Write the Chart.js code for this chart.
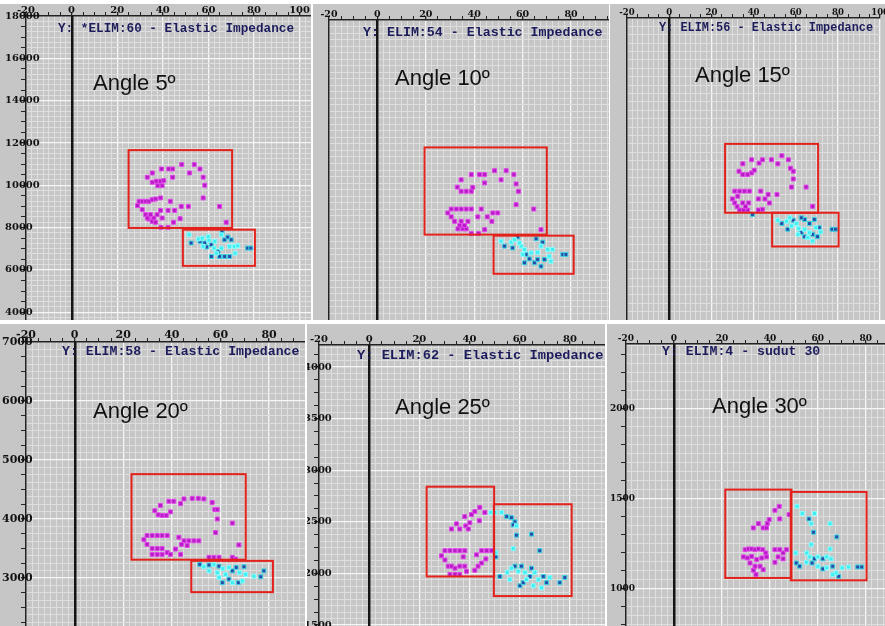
<!DOCTYPE html>
<html>
<head>
<meta charset="utf-8">
<script src="https://cdn.jsdelivr.net/npm/chart.js@4.4.0/dist/chart.umd.min.js"></script>
<style>
  html, body { margin: 0; padding: 0; background: #fff; }
  body { width: 885px; height: 626px; position: relative; overflow: hidden; }
  canvas { position: absolute; background: #c6c6c6; }
</style>
</head>
<body>
<script>
// ---- values (x = horizontal property, y = elastic impedance) ----
const p1Magenta = [[33.2,10380],[35.4,10580],[39.4,10770],[42.6,10770],[44.3,10770],[48.3,10980],[53.8,10980],[51.7,10580],[56.3,10770],[57.7,10380],[58.4,10000],[57.7,9400],[64.9,9000],[67.8,8250],
  [35.4,10140],[37.1,10190],[39.0,10190],[40.4,10220],[37.8,9980],[39.7,9980],[44.3,10380],
  [43.3,9240],[48.1,9000],[51.2,9000],[42.3,8810],[45.2,8810],[47.6,8420],[44.7,8250],[42.3,8010],[39.2,8010],
  [28.9,9040],[29.6,9240],[31.0,9240],[32.5,9240],[33.9,9240],[35.4,9320],[36.8,9350],[39.0,9400],[31.0,8850],[32.5,8610],[33.9,8400],[35.4,8290],[36.8,8250],[34.6,8610],[37.5,8610],[39.0,8810],[39.7,8450],[33.2,8450],[36.1,8450]];
const p1Cyan = [[51.5,7660],[55.6,7460],[57.3,7500],[60.2,7390],[62.5,7030],[63.5,6790],[65.7,7660],[69.3,7110],[71.4,7110],[72.9,7140],[71.7,6790],[59.9,7580],[57.7,7110],[62.8,7350],[65.7,7030]];
const p1Blue = [[52.4,7270],[56.3,7350],[58.4,7270],[59.2,7080],[61.3,7190],[64.9,6630],[67.1,7420],[68.5,7550],[70.0,7420],[69.3,6630],[67.1,6630],[61.3,6630],[64.2,6870],[77.2,7030],[78.6,7030],[66.0,7790]];
const p1Boxes = [[25,70.4,7980,11660],[48.8,80.4,6190,7900]];

const p2Magenta = [[34.6,8760],[38.8,8960],[42.2,8960],[44.3,8960],[48.4,9110],[53.2,9110],[51.1,8760],[56.4,8960],[57.3,8600],[58.3,8320],[57.3,7810],[64.6,7640],[67.6,6850],
  [33.0,8480],[34.6,8320],[36.7,8320],[38.8,8320],[39.4,8470],[44.3,8640],
  [42.9,7640],[47.7,7490],[49.7,7490],[41.5,7340],[45.4,7340],[47.3,7170],[44.3,6850],[41.8,6700],[38.8,6700],
  [29.1,7490],[30.5,7640],[32.6,7640],[34.6,7640],[36.7,7640],[38.8,7640],[30.5,7340],[31.9,7170],[34.0,7010],[35.3,6880],[36.7,6880],[34.6,7170],[37.4,7170],[36.0,7010],[33.3,6880]];
const p2Cyan = [[51.1,6410],[55.3,6370],[56.6,6470],[59.4,6220],[60.8,6090],[67.6,6220],[70.4,6090],[72.4,6090],[71.0,5830],[63.5,5960],[58.7,6340],[66.2,5980],[60.1,5900],[71.7,5640]];
const p2Blue = [[52.5,6220],[58.0,6570],[61.4,5900],[62.8,5730],[64.9,5580],[65.6,6500],[68.3,6370],[69.0,5710],[67.6,5450],[66.2,5710],[60.8,5580],[76.6,5900],[77.9,5900],[55.9,6150]];
const p2Boxes = [[19.5,70,6660,10000],[48,81.1,5160,6620]];

const p3Magenta = [[34.9,6450],[39.1,6570],[44.2,6570],[48.5,6570],[53.4,6690],[56.5,6570],[51.5,6450],[57.5,6320],[58.8,6230],[58.8,6000],[58.0,5760],[64.9,5760],[68.0,5190],
  [33.1,6230],[34.9,6130],[37.2,6130],[39.1,6180],[40.3,6260],[42.6,6470],
  [43.4,5640],[46.9,5540],[51.1,5540],[42.3,5410],[45.4,5410],[47.5,5290],[44.2,5100],[42.3,5080],
  [30.0,5410],[31.1,5640],[33.4,5640],[35.7,5640],[38.0,5640],[31.1,5290],[32.2,5180],[33.4,5080],[35.2,5080],[37.2,5080],[34.9,5290],[37.7,5290],[36.2,5180],[32.5,5490]];
const p3Cyan = [[51.5,4780],[55.7,4750],[57.2,4850],[60.3,4680],[61.4,4530],[65.7,4260],[69.5,4560],[71.8,4430],[68.0,4160],[66.5,4410],[61.1,4360],[58.0,4610],[64.2,4510]];
const p3Blue = [[53.4,4680],[58.8,4780],[62.6,4410],[64.2,4290],[64.2,4800],[66.5,4680],[68.8,4800],[71.1,4560],[70.3,4290],[77.2,4510],[78.8,4510],[56.2,4510],[68.0,4360],[62.6,4850],[39.5,4950]];
const p3Boxes = [[26.5,70.6,5000,7040],[48.8,80.3,4000,5000]];

const p4Magenta = [[33.0,4140],[35.3,4230],[38.8,4300],[40.8,4300],[43.6,4260],[45.0,4340],[48.4,4350],[50.9,4350],[53.2,4340],[56.6,4280],[57.7,4160],[58.7,4160],[58.7,4000],[58.0,3770],[64.9,3930],[67.6,3560],
  [34.4,4070],[36.0,4060],[37.7,4060],[39.4,4120],
  [42.9,3690],[45.0,3630],[47.0,3630],[49.1,3630],[51.1,3630],[44.0,3570],[46.3,3550],[41.5,3490],[43.6,3400],
  [28.5,3650],[29.8,3720],[31.9,3720],[34.0,3720],[36.0,3720],[38.1,3720],[29.8,3570],[31.9,3500],[34.0,3500],[36.0,3500],[31.9,3400],[34.0,3400],[36.0,3400],[38.1,3430],[39.4,3400],
  [55.3,3350],[57.3,3350],[59.4,3350],[64.9,3350],[66.3,3320]];
const p4Cyan = [[53.2,3190],[57.3,3230],[61.0,3160],[62.1,3060],[64.9,2920],[67.9,3090],[70.4,3060],[69.0,2950],[58.7,3090],[59.4,3010],[73.8,3030],[55.3,3120],[63.5,3180]];
const p4Blue = [[51.5,3230],[55.3,3220],[59.4,3200],[63.5,2980],[66.5,3180],[69.7,3190],[67.4,2920],[60.8,2920],[76.6,3020],[77.9,3120],[64.9,3120]];
const p4Boxes = [[23.4,70.4,3310,4760],[48,81.6,2760,3290]];

const p5Magenta = [[32.8,2430],[34.8,2480],[36.1,2430],[38.5,2460],[39.5,2430],[40.1,2490],[40.8,2570],[42.1,2600],[44.1,2640],[46.1,2590],[43.9,2510],[38.1,2550],
  [44.8,2220],[46.8,2220],[48.8,2220],[42.8,2180],[46.5,2140],[44.8,2100],[43.4,2070],[42.1,2030],
  [28.8,2170],[30.2,2220],[32.2,2220],[34.2,2220],[36.1,2220],[38.1,2220],[30.2,2130],[31.5,2070],[32.8,2070],[34.2,2050],[36.1,2070],[38.1,2070],[32.2,1990],[34.2,1990],[36.1,1990],[38.8,2020],[37.5,2160]];
const p5Cyan = [[48.5,2590],[50.1,2590],[52.8,2590],[58.7,2460],[57.4,2240],[50.5,2200],[55.0,2010],[56.7,2050],[59.4,2020],[62.1,2010],[62.7,1940],[66.0,2010],[67.4,1940],[68.7,1860],[72.0,1960],[65.4,1880],[56.1,1940]];
const p5Blue = [[54.8,2550],[56.7,2540],[58.1,2500],[57.4,2470],[58.7,2370],[64.7,2380],[68.0,2220],[50.5,2160],[52.1,1970],[58.1,2070],[60.7,2070],[64.1,1970],[64.7,2050],[69.4,1970],[70.7,1910],[60.1,1880],[76.0,1910],[78.0,1960],[61.4,1910]];
const p5Boxes = [[22.9,49.8,1970,2840],[49.7,80.7,1780,2670]];

const p6Magenta = [[42.1,1437],[43.9,1459],[44.1,1389],[39.7,1385],[38.9,1363],[37.2,1339],[35.2,1363],[33.1,1339],[38.6,1339],[48.0,1413],
  [29.7,1218],[31.0,1222],[32.4,1222],[33.8,1218],[35.2,1222],[37.0,1218],[38.3,1200],[29.0,1178],[30.6,1172],[32.4,1181],[34.5,1163],[36.6,1172],[38.6,1178],[31.7,1144],[33.8,1126],[35.9,1126],[37.2,1107],[34.2,1080],[33.1,1104],
  [42.1,1218],[44.1,1218],[45.5,1200],[43.4,1178],[45.5,1167],[42.1,1148],[46.9,1218]];
const p6Cyan = [[51.3,1459],[53.5,1419],[57.2,1363],[58.6,1419],[65.1,1363],[57.2,1246],[65.1,1222],[50.8,1200],[55.4,1200],[56.6,1178],[60.0,1178],[63.7,1178],[65.5,1167],[55.2,1148],[60.0,1126],[63.7,1117],[67.6,1089],[70.1,1117],[72.8,1122],[66.2,1080]];
const p6Blue = [[56.3,1389],[58.2,1315],[67.9,1289],[58.6,1167],[62.1,1167],[51.0,1144],[52.4,1126],[57.6,1144],[62.1,1111],[66.2,1126],[68.7,1070],[76.6,1122],[78.3,1122]];
const p6Boxes = [[21.4,49,1061,1552],[48.7,80.3,1048,1539]];

const titles = ['Y: *ELIM:60 - Elastic Impedance', 'Y: ELIM:54 - Elastic Impedance', 'Y: ELIM:56 - Elastic Impedance',
                'Y: ELIM:58 - Elastic Impedance', 'Y: ELIM:62 - Elastic Impedance', 'Y: ELIM:4 - sudut 30'];
const angles = ['Angle 5º', 'Angle 10º', 'Angle 15º', 'Angle 20º', 'Angle 25º', 'Angle 30º'];

// ---- layout of each panel in the montage ----
const panels = [
  {left:0,   top:4,   w:311, h:316, axL:26, axT:12, xMax:105,  yMin:3630, yMax:18000, yMinor:250,  yTick:500, yLab:2000, fs:10,  lp:-21, ts:12.7, tx:58,  ty:25, ax:93,  ay:86,
   mag:p1Magenta, cy:p1Cyan, bl:p1Blue, boxes:p1Boxes},
  {left:313, top:4,   w:296, h:316, axL:16, axT:16, xMax:95.7, yMin:3390, yMax:14880, yMinor:250,  yTick:500, yLab:2000, fs:9.5, lp:-16, ts:13.3, tx:50,  ty:29, ax:82,  ay:81,
   mag:p2Magenta, cy:p2Cyan, bl:p2Blue, boxes:p2Boxes},
  {left:610, top:4,   w:275, h:316, axL:17, axT:14, xMax:100,  yMin:1822, yMax:10770, yMinor:250,  yTick:500, yLab:2000, fs:8.5, lp:-15, ts:11.9, tx:49,  ty:24, ax:85,  ay:78,
   mag:p3Magenta, cy:p3Cyan, bl:p3Blue, boxes:p3Boxes},
  {left:0,   top:324, w:305, h:302, axL:26, axT:18, xMax:94.8, yMin:2186, yMax:7000,  yMinor:125,  yTick:250, yLab:1000, fs:11,  lp:-24, ts:13.2, tx:62,  ty:28, ax:93,  ay:94,
   mag:p4Magenta, cy:p4Cyan, bl:p4Blue, boxes:p4Boxes},
  {left:307, top:324, w:298, h:302, axL:12, axT:21, xMax:94,   yMin:1490, yMax:4213,  yMinor:62.5, yTick:125, yLab:500,  fs:10,  lp:-15, ts:13.7, tx:50,  ty:32, ax:88,  ay:90,
   mag:p5Magenta, cy:p5Cyan, bl:p5Blue, boxes:p5Boxes},
  {left:607, top:324, w:278, h:302, axL:19, axT:20, xMax:88,   yMin:794,  yMax:2361,  yMinor:50,   yTick:100, yLab:500,  fs:9,   lp:-16, ts:13.2, tx:55,  ty:28, ax:105, ay:89,
   mag:p6Magenta, cy:p6Cyan, bl:p6Blue, boxes:p6Boxes}
];

function isMult(v, step) {
  const r = v / step;
  return Math.abs(r - Math.round(r)) < 1e-6;
}

function makePanel(p, i) {
  const cv = document.createElement('canvas');
  cv.width = p.w;
  cv.height = p.h;
  cv.style.left = p.left + 'px';
  cv.style.top = p.top + 'px';
  document.body.appendChild(cv);

  const pts = (arr, fill, edge) => ({
    data: arr.map(d => ({x: d[0], y: d[1]})),
    pointStyle: 'rect',
    pointRadius: 2.8,
    backgroundColor: fill,
    borderColor: edge,
    borderWidth: 1
  });

  const overlay = {
    id: 'overlay' + i,
    beforeDatasetsDraw(chart) {
      // solid x = 0 line on top of the grid
      const ctx = chart.ctx, a = chart.chartArea;
      const x0 = Math.round(chart.scales.x.getPixelForValue(0));
      ctx.save();
      ctx.fillStyle = '#141414';
      ctx.fillRect(x0 - 1, a.top, 2.5, a.bottom - a.top);
      ctx.restore();
    },
    afterDatasetsDraw(chart) {
      const ctx = chart.ctx;
      const xs = chart.scales.x, ys = chart.scales.y;
      ctx.save();
      ctx.strokeStyle = '#e3221c';
      ctx.lineWidth = 2;
      p.boxes.forEach(b => {
        const x1 = xs.getPixelForValue(b[0]), x2 = xs.getPixelForValue(b[1]);
        const y1 = ys.getPixelForValue(b[2]), y2 = ys.getPixelForValue(b[3]);
        ctx.strokeRect(x1, y2, x2 - x1, y1 - y2);
      });
      ctx.fillStyle = '#1c1c5c';
      ctx.font = 'bold ' + p.ts + 'px "Liberation Mono"';
      ctx.textBaseline = 'middle';
      ctx.fillText(titles[i], p.tx, p.ty);
      ctx.fillStyle = '#111';
      ctx.font = '22px "Liberation Sans"';
      ctx.textBaseline = 'alphabetic';
      ctx.fillText(angles[i], p.ax, p.ay);
      ctx.restore();
    }
  };

  const tickFont = {family: '"DejaVu Serif"', weight: 'bold', size: p.fs};

  new Chart(cv, {
    type: 'scatter',
    data: {
      datasets: [
        pts(p.mag, '#b61ac4', '#e048ea'),
        pts(p.cy, '#3eeef0', '#8afcff'),
        pts(p.bl, '#2a4aa8', '#3cd6e2')
      ]
    },
    options: {
      responsive: false,
      animation: false,
      layout: {padding: 0, autoPadding: false},
      plugins: {legend: {display: false}, tooltip: {enabled: false}},
      scales: {
        x: {
          type: 'linear', position: 'top', min: -20, max: p.xMax,
          afterFit: s => { s.height = p.axT; },
          ticks: {
            stepSize: 2.5, autoSkip: false, maxRotation: 0, includeBounds: false, padding: -4,
            font: tickFont, color: '#111',
            callback: v => isMult(v, 20) ? v : ''
          },
          grid: {
            color: c => isMult(c.tick.value, 20) ? '#f6f6f6' : '#dedede',
            lineWidth: c => isMult(c.tick.value, 20) ? 1.3 : 1,
            tickLength: 4,
            tickColor: c => isMult(c.tick.value, 5) ? '#222' : 'rgba(0,0,0,0)'
          },
          border: {color: '#222', width: 1.5}
        },
        y: {
          type: 'linear', position: 'left', min: p.yMin, max: p.yMax,
          afterFit: s => { s.width = p.axL; },
          ticks: {
            stepSize: p.yMinor, autoSkip: false, includeBounds: false,
            mirror: true, crossAlign: 'near', padding: p.lp,
            font: tickFont, color: '#111',
            callback: v => isMult(v, p.yLab) ? v : ''
          },
          grid: {
            color: c => isMult(c.tick.value, p.yLab) ? '#f6f6f6' : '#dedede',
            lineWidth: c => isMult(c.tick.value, p.yLab) ? 1.3 : 1,
            tickLength: 5,
            tickColor: c => isMult(c.tick.value, p.yTick) ? '#222' : 'rgba(0,0,0,0)'
          },
          border: {color: '#222', width: 1.5}
        }
      }
    },
    plugins: [overlay]
  });
}

panels.forEach(makePanel);
</script>
</body>
</html>
